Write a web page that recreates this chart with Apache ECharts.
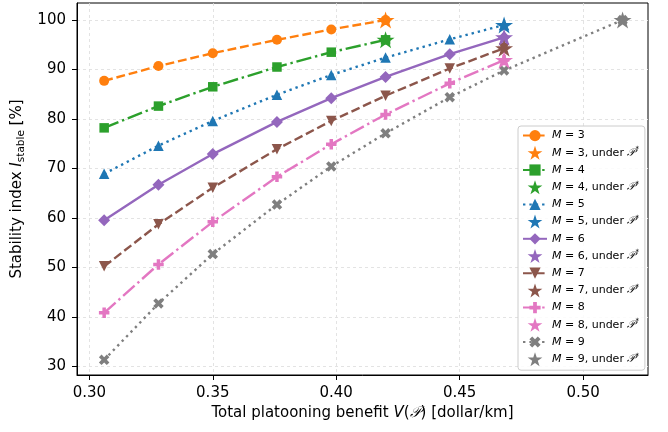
<!DOCTYPE html>
<html><head><meta charset="utf-8">
<script src="https://cdn.jsdelivr.net/npm/echarts@6/dist/echarts.min.js"></script>
<style>html,body{margin:0;padding:0;background:#fff}#c{width:668px;height:432px}</style>
</head><body><div id="c"></div>
<script>
// x positions (total platooning benefit, dollar/km)
const xVals = [0.306, 0.328, 0.350, 0.376, 0.398, 0.420, 0.446, 0.468, 0.516];
// stability index per M (line series)
const m3 = [87.7, 90.7, 93.3, 96.0, 98.1, 100.0];
const m4 = [78.2, 82.6, 86.5, 90.5, 93.5, 96.0];
const m5 = [68.9, 74.6, 79.6, 84.9, 88.9, 92.4, 96.1, 99.0];
const m6 = [59.5, 66.7, 72.9, 79.4, 84.2, 88.5, 93.1, 96.5];
const m7 = [50.2, 58.7, 66.1, 73.9, 79.6, 84.7, 90.2, 94.3];
const m8 = [40.8, 50.6, 59.2, 68.3, 74.9, 80.9, 87.2, 91.9];
const m9 = [31.3, 42.7, 52.7, 62.7, 70.4, 77.1, 84.4, 89.8, 100.0];
// points under P* (stars): [x index, value]
const starM3 = [5, 100.0];
const starM4 = [5, 96.0];
const starM5 = [7, 99.0];
const starM6 = [7, 96.5];
const starM7 = [7, 94.3];
const starM8 = [7, 91.9];
const starM9 = [8, 100.0];
const mLabels = ['3', '4', '5', '6', '7', '8', '9'];
const yTicks = [30, 40, 50, 60, 70, 80, 90, 100];
const xTicks = [0.30, 0.35, 0.40, 0.45, 0.50];

const colors = ['#ff7f0e', '#2ca02c', '#1f77b4', '#9467bd', '#8c564b', '#e377c2', '#7f7f7f'];
const lw = 2.4;
const dashes = [
  [3.7 * lw, 1.6 * lw],
  [6.4 * lw, 1.6 * lw, 1 * lw, 1.6 * lw],
  [1 * lw, 1.65 * lw],
  'solid',
  [3.7 * lw, 1.6 * lw],
  [6.4 * lw, 1.6 * lw, 1 * lw, 1.6 * lw],
  [1 * lw, 1.65 * lw]
];
const STAR = 'path://M0,-1 L0.2245,-0.309 L0.9511,-0.309 L0.3633,0.118 L0.5878,0.809 L0,0.382 L-0.5878,0.809 L-0.3633,0.118 L-0.9511,-0.309 L-0.2245,-0.309 Z';
const PLUS = 'path://M-1,-3 L1,-3 L1,-1 L3,-1 L3,1 L1,1 L1,3 L-1,3 L-1,1 L-3,1 L-3,-1 L-1,-1 Z';
const XF = 'path://M-1,-2 L0,-1 L1,-2 L2,-1 L1,0 L2,1 L1,2 L0,1 L-1,2 L-2,1 L-1,0 L-2,-1 Z';
const TRI_DOWN = 'path://M-1,-1 L1,-1 L0,1 Z';
const symbols = ['circle', 'rect', 'triangle', 'diamond', TRI_DOWN, PLUS, XF];
const symSizes = [10, 9.5, 10.5, 12, 10.5, 10.5, 10.5];

const lines = [m3, m4, m5, m6, m7, m8, m9];
const stars = [starM3, starM4, starM5, starM6, starM7, starM8, starM9];

const series = [];
const legendData = [];
lines.forEach((vals, i) => {
  const name = 'M = ' + mLabels[i];
  const sname = 'M = ' + mLabels[i] + ', under P*';
  legendData.push(name, sname);
  series.push({
    name: name, type: 'line',
    data: vals.map((v, k) => [xVals[k], v]),
    symbol: symbols[i], symbolSize: symSizes[i], showSymbol: true,
    lineStyle: { color: colors[i], width: lw, type: dashes[i], cap: 'butt' },
    itemStyle: { color: colors[i], borderWidth: 0, opacity: 1 },
    z: 2 + i * 0.01, animation: false, emphasis: { disabled: true }
  });
  series.push({
    name: sname, type: 'scatter',
    data: [[xVals[stars[i][0]], stars[i][1]]],
    symbol: STAR, symbolSize: 18, symbolKeepAspect: true,
    itemStyle: { color: colors[i], opacity: 1 },
    z: 3 + i * 0.01, animation: false, emphasis: { disabled: true }
  });
});

const chart = echarts.init(document.getElementById('c'), null, { renderer: 'canvas' });
const FONT = 'DejaVu Sans';
const FS = 15;
chart.setOption({
  animation: false,
  textStyle: { fontFamily: FONT },
  grid: { left: 77, right: 20, top: 3, bottom: 57, show: true, borderColor: '#000', borderWidth: 1, backgroundColor: 'transparent' },
  xAxis: {
    type: 'value', min: 0.295, max: 0.5263,
    name: '{n|Total platooning benefit }{i|V}{n|(}{s|𝒫}{n|) [dollar/km]}',
    nameLocation: 'middle', nameGap: 29,
    nameTextStyle: { rich: {
      n: { fontFamily: FONT, fontSize: FS, color: '#000' },
      i: { fontFamily: FONT, fontSize: FS, color: '#000', fontStyle: 'italic' },
      s: { fontFamily: FONT, fontSize: FS, color: '#000', fontStyle: 'italic' }
    } },
    axisLine: { show: true, onZero: false, lineStyle: { color: '#000', width: 1 } },
    axisTick: { show: true, length: 5, lineStyle: { color: '#000' }, customValues: xTicks },
    axisLabel: { customValues: xTicks, fontSize: FS, color: '#000', margin: 11, fontFamily: FONT, formatter: v => v.toFixed(2) },
    splitLine: { show: true, customValues: xTicks, lineStyle: { color: '#dcdcdc', type: [3, 3], width: 0.8 } }
  },
  yAxis: {
    type: 'value', min: 28.24, max: 103.44,
    name: '{n|Stability index }{i|I}{sub|stable}{n| [%]}',
    nameLocation: 'middle', nameGap: 48, nameRotate: 90,
    nameTextStyle: { rich: {
      n: { fontFamily: FONT, fontSize: FS, color: '#000' },
      i: { fontFamily: FONT, fontSize: FS, color: '#000', fontStyle: 'italic' },
      sub: { fontFamily: FONT, fontSize: 10.5, color: '#000', verticalAlign: 'bottom', padding: [7, 0, 0, 0] }
    } },
    axisLine: { show: true, onZero: false, lineStyle: { color: '#000', width: 1 } },
    axisTick: { show: true, length: 5, lineStyle: { color: '#000' }, customValues: yTicks },
    axisLabel: { customValues: yTicks, fontSize: FS, color: '#000', margin: 11, fontFamily: FONT },
    splitLine: { show: true, customValues: yTicks, lineStyle: { color: '#dcdcdc', type: [3, 3], width: 0.8 } }
  },
  legend: {
    data: legendData, orient: 'vertical', left: 518, top: 126,
    itemWidth: 24, itemHeight: 14, itemGap: 4.6,
    padding: [4, 6, 4, 4],
    backgroundColor: 'rgba(255,255,255,0.85)', borderColor: '#cccccc', borderWidth: 1, borderRadius: 3,
    selectedMode: false,
    formatter: function (name) {
      const m = name.match(/^M = (\d)(, under P\*)?$/);
      if (m[2]) return '{i|M}{n| = ' + m[1] + ', under }{s|𝒫}{sup|*}';
      return '{i|M}{n| = ' + m[1] + '}';
    },
    textStyle: { fontFamily: FONT, fontSize: 11, color: '#000', rich: {
      n: { fontFamily: FONT, fontSize: 11, color: '#000', lineHeight: 14 },
      i: { fontFamily: FONT, fontSize: 11, color: '#000', fontStyle: 'italic', lineHeight: 14 },
      s: { fontFamily: FONT, fontSize: 11, color: '#000', fontStyle: 'italic', lineHeight: 14 },
      sup: { fontFamily: FONT, fontSize: 7, color: '#000', verticalAlign: 'top', lineHeight: 8 }
    } }
  },
  series: series
});
</script></body></html>
